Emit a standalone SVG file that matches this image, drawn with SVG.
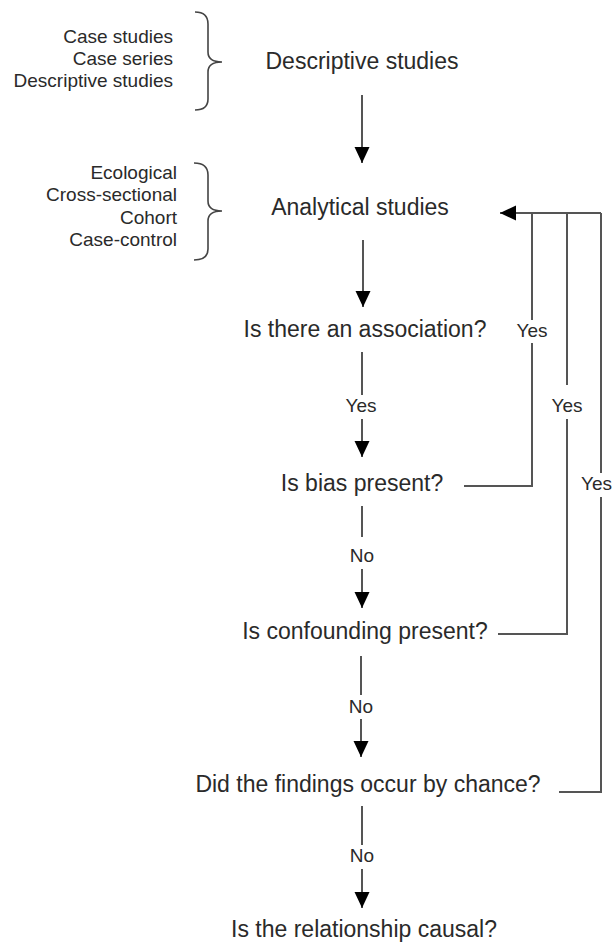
<svg xmlns="http://www.w3.org/2000/svg" width="613" height="944" viewBox="0 0 613 944">
<style>
  .main { font-family: "Liberation Sans", Arial, sans-serif; font-size: 23px; fill: #2a2a2a; text-anchor: middle; }
  .side { font-family: "Liberation Sans", Arial, sans-serif; font-size: 19px; fill: #2a2a2a; text-anchor: end; }
  .lbl { font-family: "Liberation Sans", Arial, sans-serif; font-size: 19px; fill: #2a2a2a; text-anchor: middle; }
  .ln { stroke: #555; stroke-width: 2; fill: none; }
  .br { stroke: #444; stroke-width: 1.6; fill: none; }
</style>
<defs>
  <marker id="ah" markerUnits="userSpaceOnUse" markerWidth="17" markerHeight="16" refX="16" refY="8" orient="auto" viewBox="0 0 17 16">
    <path d="M0,0.5 L16,8 L0,15.5 z" fill="#000"/>
  </marker>
</defs>
<rect width="613" height="944" fill="#fff"/>

<g id="descriptive-types">
  <text class="side" x="173" y="43">Case studies</text>
  <text class="side" x="173" y="65">Case series</text>
  <text class="side" x="173" y="87">Descriptive studies</text>
  <path class="br" d="M195,12 Q208,12 208,24 L208,52 Q208,62 222,62 Q208,62 208,72 L208,99 Q208,110 195,110"/>
</g>
<g id="analytical-types">
  <text class="side" x="177" y="179">Ecological</text>
  <text class="side" x="177" y="201">Cross-sectional</text>
  <text class="side" x="177" y="224">Cohort</text>
  <text class="side" x="177" y="246">Case-control</text>
  <path class="br" d="M194,163 Q208,163 208,175 L208,201 Q208,211 222,211 Q208,211 208,221 L208,249 Q208,260 194,260"/>
</g>

<g id="n-descriptive"><text class="main" x="362" y="69">Descriptive studies</text></g>
<g id="n-analytical"><text class="main" x="360" y="215">Analytical studies</text></g>
<g id="n-association"><text class="main" x="365" y="337">Is there an association?</text></g>
<g id="n-bias"><text class="main" x="362" y="491">Is bias present?</text></g>
<g id="n-confounding"><text class="main" x="365" y="639">Is confounding present?</text></g>
<g id="n-chance"><text class="main" x="368" y="792">Did the findings occur by chance?</text></g>
<g id="n-causal"><text class="main" x="364" y="937">Is the relationship causal?</text></g>

<g id="connectors">
  <line class="ln" x1="362" y1="95" x2="362" y2="163" marker-end="url(#ah)"/>
  <line class="ln" x1="363" y1="240" x2="363" y2="307" marker-end="url(#ah)"/>

  <line class="ln" x1="362" y1="352" x2="362" y2="395"/>
  <text class="lbl" x="361" y="412">Yes</text>
  <line class="ln" x1="362" y1="419" x2="362" y2="457" marker-end="url(#ah)"/>

  <line class="ln" x1="362" y1="506" x2="362" y2="537"/>
  <text class="lbl" x="362" y="562">No</text>
  <line class="ln" x1="362" y1="569" x2="362" y2="608" marker-end="url(#ah)"/>

  <line class="ln" x1="361" y1="656" x2="361" y2="695"/>
  <text class="lbl" x="361" y="713">No</text>
  <line class="ln" x1="361" y1="719" x2="361" y2="757" marker-end="url(#ah)"/>

  <line class="ln" x1="362" y1="806" x2="362" y2="845"/>
  <text class="lbl" x="362" y="862">No</text>
  <line class="ln" x1="362" y1="869" x2="362" y2="908" marker-end="url(#ah)"/>

  <!-- feedback loops -->
  <polyline class="ln" points="464,486 532,486 532,343"/>
  <text class="lbl" x="532" y="337">Yes</text>
  <line class="ln" x1="532" y1="320" x2="532" y2="213"/>

  <polyline class="ln" points="498,634 567,634 567,419"/>
  <text class="lbl" x="567" y="412">Yes</text>
  <line class="ln" x1="567" y1="385" x2="567" y2="213"/>

  <polyline class="ln" points="559,792 601,792 601,497"/>
  <text class="lbl" x="612" y="490" style="text-anchor:end">Yes</text>
  <line class="ln" x1="601" y1="473" x2="601" y2="213"/>

  <polyline class="ln" points="601,213 500,213" marker-end="url(#ah)"/>
</g>
</svg>
